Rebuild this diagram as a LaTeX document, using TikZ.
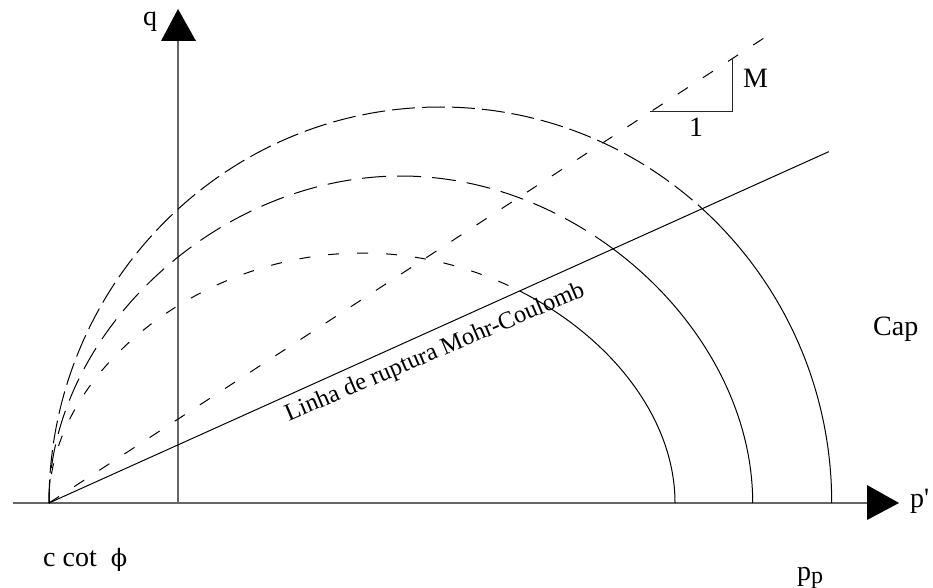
\documentclass[tikz,border=0pt]{standalone}
\usepackage{fontspec}
\setmainfont{Liberation Serif}
\newfontfamily\djserif{DejaVu Serif}
\begin{document}
\begin{tikzpicture}[x=1pt,y=-1pt,
  lbl/.style={inner sep=0pt, font=\fontsize{28}{30}\selectfont},
  axisline/.style={draw=black!60, line width=1.4pt},
  curve/.style={line width=1pt},
  outerdash/.style={curve, dash pattern=on 23pt off 7pt},
  middash/.style={curve, dash pattern=on 24pt off 11pt},
  innerdash/.style={curve, dash pattern=on 11pt off 18pt},
  mdash/.style={curve, dash pattern=on 12pt off 18pt}
]
\useasboundingbox (0,0) rectangle (933,588);
\coordinate (O) at (49,503);
\coordinate (xs) at (12.7,503);
\coordinate (xe) at (867,503);
\coordinate (ys) at (178,503);
\coordinate (ye) at (178,41);
\draw[axisline] (xs) -- (xe);
\draw[axisline] (ys) -- (ye);
\fill (867,485) -- (899,503) -- (867,520) -- cycle;
\fill (161,41) -- (178,9) -- (196,41) -- cycle;

% dashed parts (above the Mohr-Coulomb line)
\begin{scope}
\clip (O) -- (1000,74.5) -- (1000,-100) -- (-100,-100) -- (-100,503) -- cycle;
\draw[outerdash] (O) .. controls (49,284.3) and (224.2,107) .. (440.35,107) .. controls (656.5,107) and (831.7,284.3) .. (831.7,503);
\draw[middash] (O) .. controls (49,333) and (217.9,176) .. (400.85,176) .. controls (583.8,176) and (752.7,333) .. (752.7,503);
\draw[innerdash] (O) .. controls (49,373) and (199.2,253) .. (362,253) .. controls (524.8,253) and (675,373) .. (675,503);
\end{scope}
% solid parts (below the line)
\begin{scope}
\clip (O) -- (1000,74.5) -- (1000,700) -- (-100,700) -- (-100,503) -- cycle;
\draw[curve] (O) .. controls (49,284.3) and (224.2,107) .. (440.35,107) .. controls (656.5,107) and (831.7,284.3) .. (831.7,503);
\draw[curve] (O) .. controls (49,333) and (217.9,176) .. (400.85,176) .. controls (583.8,176) and (752.7,333) .. (752.7,503);
\draw[curve] (O) .. controls (49,373) and (199.2,253) .. (362,253) .. controls (524.8,253) and (675,373) .. (675,503);
\end{scope}

\coordinate (mcend) at (828.7,151.7);
\coordinate (mend) at (764,38);
\draw[curve] (O) -- (mcend);
\draw[mdash] (O) -- (mend);
\coordinate (t1) at (650,111.7);
\coordinate (t2) at (732.3,111.7);
\coordinate (t3) at (732.3,58.3);
\draw[curve, draw=black!85] (t1) -- (t2) -- (t3);

\node[lbl, anchor=base west] (q) at (143,26) {q};
\node[lbl, anchor=base west] (pl) at (910,507) {p\textquotesingle};
\node[lbl, anchor=base west] (cap) at (873,335) {Cap};
\node[lbl, anchor=base west] (m) at (743,88) {M};
\node[lbl, anchor=base] (one) at (696,137) {1};
\node[lbl, anchor=base west] (ccot) at (43,566) {c cot\ \ {\djserif\fontsize{24}{24}\selectfont ϕ}};
\node[lbl, anchor=base west] (pp) at (797,580) {p\raisebox{-3pt}{\fontsize{24}{24}\selectfont p}};
\node[rotate=23, inner sep=0pt, font=\fontsize{24.5}{26}\selectfont] (mc) at (435,353) {Linha de ruptura Mohr-Coulomb};
\end{tikzpicture}
\end{document}
